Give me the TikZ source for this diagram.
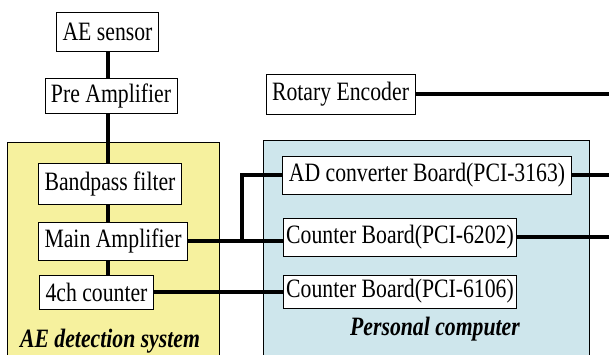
\documentclass[tikz,border=0pt]{standalone}
\usepackage{fontspec}
\setmainfont[FakeStretch=0.82]{Liberation Serif}
\definecolor{aeyellow}{RGB}{246,241,158}
\definecolor{pcblue}{RGB}{206,230,236}
\usetikzlibrary{positioning}

\begin{document}
\begin{tikzpicture}[x=1pt, y=-1pt,
    box/.style={draw, fill=white, line width=0.9pt, inner xsep=6pt, inner ysep=0pt, minimum height=37pt, font=\fontsize{26.5}{28}\selectfont},
    link/.style={line width=3.4pt},
    group/.style={draw, line width=0.9pt},
    caption/.style={font=\fontsize{26.5}{28}\selectfont\bfseries\itshape}]
    \useasboundingbox (0,0) rectangle (609,354);

    % Containers
    \fill[aeyellow] (7,142) rectangle (219,362);
    \draw[group] (7,362) -- (7,142) -- (219,142) -- (219,362);
    \fill[pcblue] (263,140) rectangle (589,362);
    \draw[group] (263,362) -- (263,140) -- (589,140) -- (589,362);

    % Helper coordinates
    \coordinate (spine) at (108,0);
    \coordinate (jct) at (242,0);
    \coordinate (edge) at (609,0);

    % AE side
    \node[box, minimum height=39pt] (sensor) at (107.5,31.5) {AE sensor};
    \node[box, minimum height=35pt] (preamp) at (111,95.5) {Pre Amplifier};
    \node[box, minimum height=41pt] (bandpass) at (110,183.5) {Bandpass filter};
    \node[box, minimum height=38pt] (mainamp) at (113,241) {Main Amplifier};
    \node[box, minimum height=34pt] (counter4) at (96.5,292) {4ch counter};
    \node[caption] (aelabel) at (110,341) {AE detection system};

    % PC side
    \node[box, minimum height=40pt] (encoder) at (340.5,94) {Rotary Encoder};
    \node[box, minimum height=38pt] (adboard) at (427,175) {AD converter Board(PCI-3163)};
    \node[box, minimum height=38pt, inner xsep=3pt] (cnt6202) at (400,237) {Counter Board(PCI-6202)};
    \node[box, minimum height=33pt, inner xsep=3pt] (cnt6106) at (400,291.5) {Counter Board(PCI-6106)};
    \node[caption] (pclabel) at (435,329) {Personal computer};

    % Signal chain
    \draw[link] (sensor.south -| spine) -- (preamp.north -| spine);
    \draw[link] (preamp.south -| spine) -- (bandpass.north -| spine);
    \draw[link] (bandpass.south -| spine) -- (mainamp.north -| spine);
    \draw[link] (mainamp.south -| spine) -- (counter4.north -| spine);

    % Links to the boards
    \draw[link] (mainamp.east) -- (mainamp.east -| cnt6202.west);
    \draw[link] (mainamp.east -| jct) |- (adboard.west);
    \draw[link] (counter4.east) -- (counter4.east -| cnt6106.west);

    % Lines leaving the picture
    \draw[link] (encoder.east) -- (encoder.east -| edge);
    \draw[link] (adboard.east) -- (adboard.east -| edge);
    \draw[link] (cnt6202.east) -- (cnt6202.east -| edge);
\end{tikzpicture}
\end{document}
